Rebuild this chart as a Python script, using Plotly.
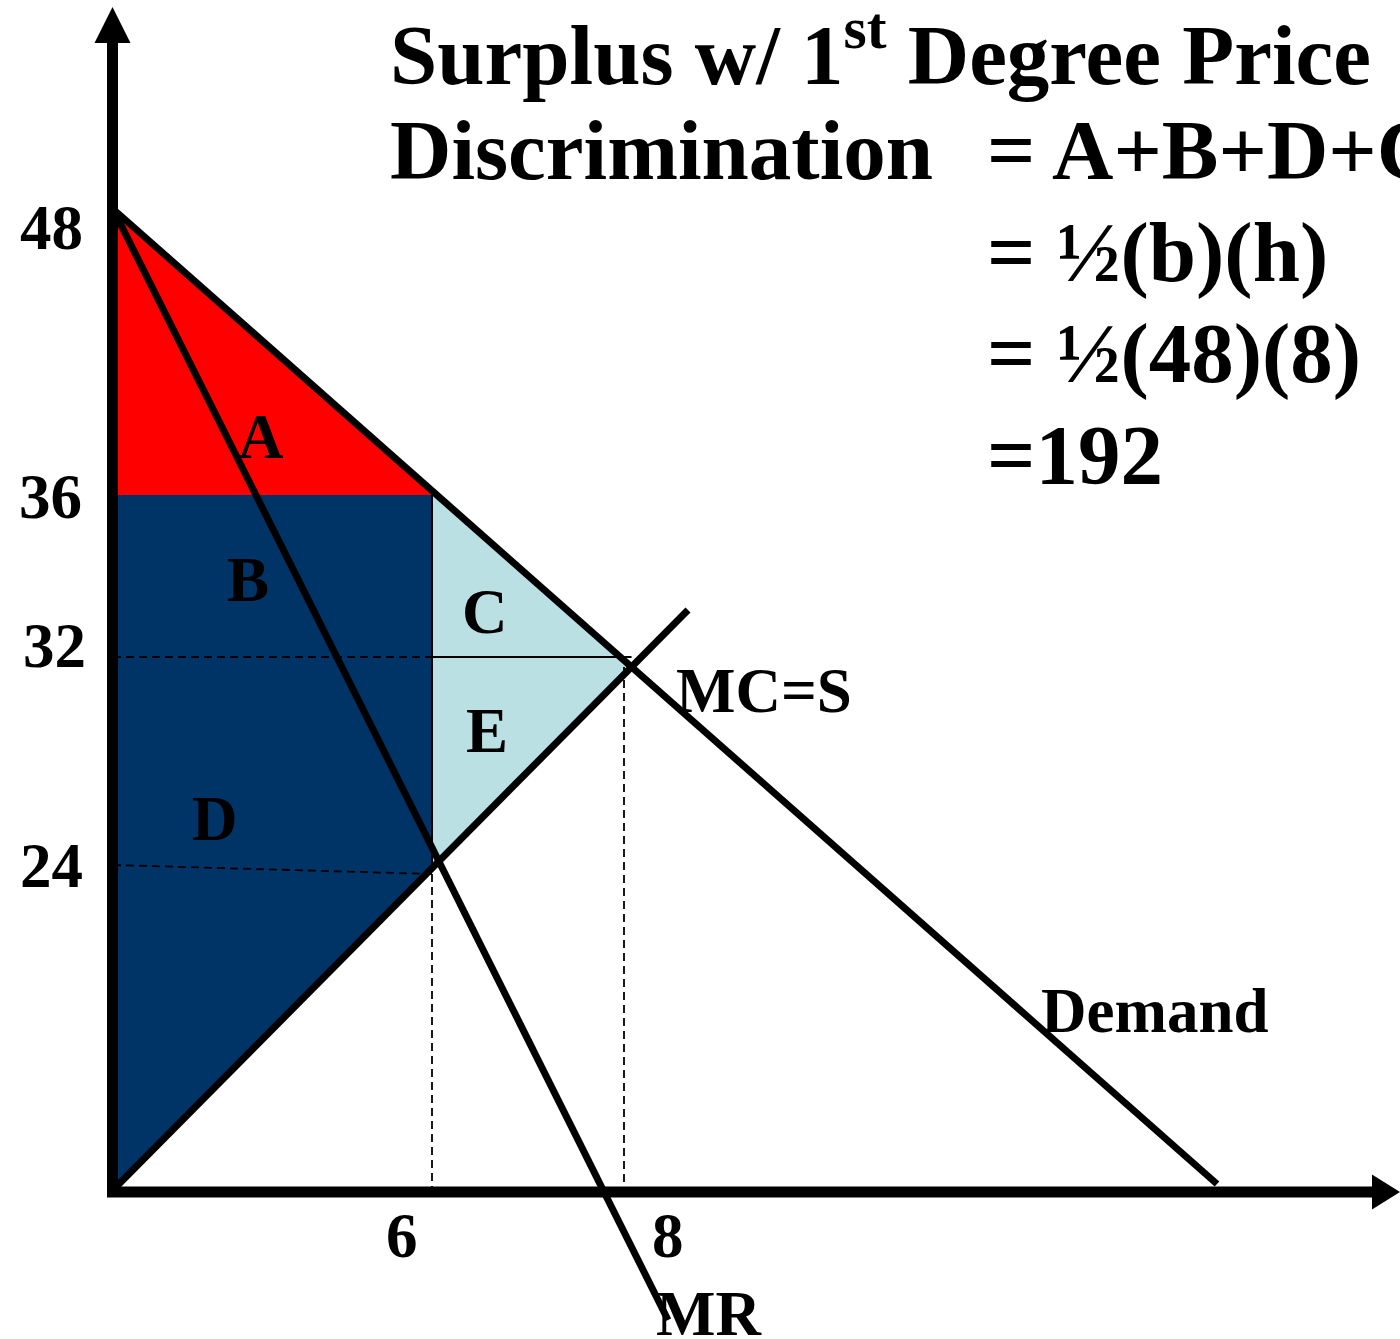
import plotly.graph_objects as go

W, H = 1400, 1339
# Diagram units: origin at the corner of the axes, 1 unit = 1 px of the drawing
ORIGIN_PX = (113, 1190)

# ---- data (diagram units) ----
demand_x = [0, 1104]
demand_y = [981, 6]
mr_x = [0, 555]
mr_y = [981, -130]
mc_x = [0, 575]
mc_y = [0, 580]

price_labels = ["48", "36", "32", "24"]
price_pos = [981, 695, 533, 325]
qty_labels = ["6", "8"]
qty_pos = [319, 511]
y24_end = 316          # where the (slightly sloped) 24 guide meets MC

region_labels = ["A", "B", "C", "D", "E"]

title_lines = ["Surplus w/ 1<sup>st</sup> Degree Price", "Discrimination"]
formula_lines = ["= A+B+D+C", "= ½(b)(h)", "= ½(48)(8)", "=192"]

curve_labels = ["MC=S", "Demand", "MR"]

# colours
RED = "#FF0000"
NAVY = "#003366"
LIGHT = "#BBE0E3"


def at(xs, ys, x):
    return ys[0] + (ys[1] - ys[0]) * (x - xs[0]) / (xs[1] - xs[0])


def intersect(ax, ay, bx, by):
    ma = (ay[1] - ay[0]) / (ax[1] - ax[0])
    mb = (by[1] - by[0]) / (bx[1] - bx[0])
    ca = ay[0] - ma * ax[0]
    cb = by[0] - mb * bx[0]
    x = (cb - ca) / (ma - mb)
    return x, ma * x + ca


p48, p36, p32, p24 = price_pos
q6, q8 = qty_pos
mc_q6 = at(mc_x, mc_y, q6)
ix, iy = intersect(demand_x, demand_y, mc_x, mc_y)
dem0 = at(demand_x, demand_y, 0)

fig = go.Figure()


def poly(xs, ys, color):
    fig.add_trace(go.Scatter(x=xs + [xs[0]], y=ys + [ys[0]], mode="lines",
                             fill="toself", fillcolor=color,
                             line=dict(width=0, color=color),
                             hoverinfo="skip", showlegend=False))


def seg(xs, ys, width, dash="solid", color="black"):
    fig.add_trace(go.Scatter(x=xs, y=ys, mode="lines",
                             line=dict(width=width, color=color, dash=dash),
                             hoverinfo="skip", showlegend=False))


# filled areas
poly([0, 0, q6], [dem0, p36, p36], RED)                 # A
poly([0, q6, q6, 0], [p36, p36, mc_q6, 0], NAVY)        # B + D
poly([q6, ix, q6], [p36, iy, mc_q6], LIGHT)             # C + E

# thin guide lines
DASH = "8px,5px"
seg([0, q6], [p32, p32], 1.8, DASH)
seg([q6, ix], [p32, p32], 2)
seg([q6, q6], [p36, mc_q6], 2)
seg([0, q6], [p24, y24_end], 1.8, DASH)
seg([q6, q6], [y24_end, 0], 1.8, DASH)
seg([q8, q8], [iy, 0], 1.8, DASH)

# curves
seg(demand_x, demand_y, 7)
seg(mr_x, mr_y, 7)
seg(mc_x, mc_y, 7)

# axes with arrow heads
AX_W = 11
y_tip, y_base, x_tip, x_base = 1183, 1147, 1287, 1259
seg([-0.5, -0.5], [-7, y_base + 2], AX_W)
seg([-6, x_base + 2], [-2, -2], AX_W)
poly([-0.5 - 18, -0.5 + 18, -0.5], [y_base, y_base, y_tip], "black")
poly([x_base, x_base, x_tip], [-2 - 17.5, -2 + 17.5, -2], "black")

FONT = "Liberation Serif, Times New Roman, serif"


def txt(s, x_px, y_px, size, xanchor="center"):
    fig.add_annotation(text=s, x=x_px / W, y=1 - y_px / H, xref="paper", yref="paper",
                       showarrow=False, xanchor=xanchor, yanchor="middle",
                       font=dict(family=FONT, size=size, color="black", weight="bold"))


LS = 63
# tick labels
for lab, (xp, yp) in zip(price_labels, [(51, 228), (50, 497), (54, 646), (51, 866)]):
    txt(lab, xp, yp, LS)
for lab, (xp, yp) in zip(qty_labels, [(402, 1236), (668, 1236)]):
    txt(lab, xp, yp, LS)

# region labels
for lab, (xp, yp) in zip(region_labels, [(261, 437), (248, 580), (485, 612), (215, 819), (487, 731)]):
    txt(lab, xp, yp, LS)

# curve labels
for lab, (xp, yp) in zip(curve_labels, [(764, 691), (1155, 1011), (709, 1314)]):
    txt(lab, xp, yp, LS)

# title / formula text
FS = 85
txt(title_lines[0], 388, 78 - 0.35 * FS, FS, "left")
txt(title_lines[1], 388, 180 - 0.35 * FS, FS, "left")
for i, line in enumerate(formula_lines):
    txt(line, 985, [180, 282, 383, 485][i] - 0.35 * FS, FS, "left")

fig.update_layout(
    width=W, height=H,
    margin=dict(l=0, r=0, t=0, b=0),
    paper_bgcolor="white", plot_bgcolor="white",
    xaxis=dict(range=[-ORIGIN_PX[0], W - ORIGIN_PX[0]], visible=False, fixedrange=True),
    yaxis=dict(range=[ORIGIN_PX[1] - H, ORIGIN_PX[1]], visible=False, fixedrange=True),
    showlegend=False,
)

fig.write_html("out.html", config={"displayModeBar": False},
               post_script="document.body.style.margin='0';document.body.style.overflow='hidden';")
